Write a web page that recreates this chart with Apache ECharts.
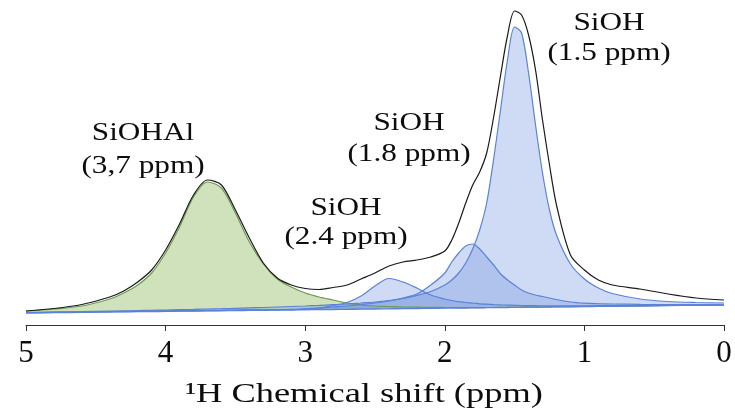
<!DOCTYPE html>
<html>
<head>
<meta charset="utf-8">
<script src="https://cdn.jsdelivr.net/npm/echarts@6/dist/echarts.min.js"></script>
<style>
html,body{margin:0;padding:0;background:#fff;}
#chart{width:735px;height:415px;}
</style>
</head>
<body>
<div id="chart"></div>
<script>
// Chemical shift positions (ppm)
const ppm = [5.0,4.8,4.6,4.4,4.3,4.2,4.1,4.0,3.9,3.8,3.7,3.6,3.5,3.4,3.3,3.2,3.1,3.0,2.9,2.8,2.7,2.6,2.5,2.4,2.3,2.2,2.1,2.0,1.95,1.9,1.85,1.8,1.75,1.7,1.65,1.6,1.55,1.5,1.45,1.4,1.35,1.3,1.25,1.2,1.1,1.0,0.9,0.8,0.6,0.4,0.2,0.0];

// Common baseline of the deconvolution
const baseline = [12,12.3,12.6,13,13.1,13.3,13.4,13.6,13.8,13.9,14.1,14.2,14.4,14.6,14.7,14.9,15,15.2,15.4,15.5,15.7,15.8,16,16.2,16.3,16.5,16.6,16.8,16.9,17,17,17.1,17.2,17.3,17.4,17.4,17.5,17.6,17.7,17.8,17.8,17.9,18,18.1,18.2,18.4,18.6,18.7,19,19.4,19.7,20];

// SiOHAl component (3.7 ppm)
const siohal37 = [14,16,19,26,32,40,52,72,98,128,143,137,112,83,61,46,38,32,28,25,22,20,19,18.5,18,17.8,17.6,17.5,17.5,17.4,17.4,17.4,17.4,17.5,17.5,17.6,17.6,17.7,17.8,17.9,17.9,18,18.1,18.2,18.3,18.5,18.7,18.8,19.1,19.5,19.8,20.1];

// SiOH component (2.4 ppm)
const sioh24 = [12.5,12.8,13.1,13.5,13.6,13.8,13.9,14.1,14.3,14.4,14.6,14.7,14.9,15.1,15.2,15.4,15.6,16,17.2,19.5,22.5,29,39,46.5,43,37,30,26,24.5,23.3,22.5,21.8,21.2,20.8,20.4,20.1,19.9,19.7,19.5,19.4,19.3,19.2,19.1,19.1,19.1,19.2,19.3,19.4,19.6,19.9,20.1,20.3];

// SiOH component (1.8 ppm)
const sioh18 = [12.3,12.6,12.9,13.3,13.4,13.6,13.7,13.9,14.1,14.2,14.4,14.5,14.7,14.9,15,15.2,15.3,16.3,17,18,19,20.5,22,24,27,31,40,52,63,72,79,81,76,68,60,51,45,40,35,32,30,28.5,27,25.5,23,21.8,21.3,21,20.6,20.4,20.4,20.5];

// SiOH component (1.5 ppm)
const sioh15 = [12.5,12.9,13.3,13.8,14.1,14.4,14.7,15,15.3,15.6,16,16.3,16.7,17.1,17.5,18,18.5,19,19.6,20.3,21,22,23,24.5,26.5,29.5,33.5,40,45,52,62,76,95,122,166,216,266,298,292,252,200,152,115,90,61,46,37,31.5,26,23.5,22.5,22];

// Experimental spectrum
const experimental = [14,16.5,20.5,28,34,43,55,75,101,130,145,140,115,87,62,47,40,36.5,35.5,37.5,40,46,52,59,63,65,68,74,85,102,122,140,153,172,208,250,290,314,310,290,255,205,160,120,70,55,45,40,36,31,27,25];

// Axis ticks
const xTicks = [5,4,3,2,1,0];

// Peak annotations
const labels = [
  {name:'SiOHAl', shift:'(3,7 ppm)'},
  {name:'SiOH', shift:'(2.4 ppm)'},
  {name:'SiOH', shift:'(1.8 ppm)'},
  {name:'SiOH', shift:'(1.5 ppm)'}
];
const labelPos = [[143,133,166],[346,208,237],[409,123,154],[609,23,53]];

const pts = arr => ppm.map((p,i)=>[p,arr[i]]);
const serif = "'Liberation Serif','Times New Roman',serif";
const blueLine = '#5b82d8';
const blueFill = 'rgba(110,145,222,0.33)';

const chart = echarts.init(document.getElementById('chart'), null, {renderer:'canvas'});

function comp(data, lineColor, fillColor){
  return {
    type:'line', data:pts(data), smooth:0.3, showSymbol:false, symbol:'none',
    lineStyle:{color:lineColor, width:1.2},
    areaStyle:{color:fillColor, opacity:1},
    silent:true, animation:false
  };
}

const graphics = [];
labels.forEach((l,i)=>{
  const [x,y1,y2] = labelPos[i];
  [[l.name,y1],[l.shift,y2]].forEach(([t,y])=>{
    graphics.push({type:'text', x:x, y:y, scaleX:1.25, silent:true,
      style:{text:t, fontFamily:serif, fontSize:25, fill:'#0d0d0d', align:'center', verticalAlign:'middle'}});
  });
});
graphics.push({type:'text', x:364, y:395, scaleX:1.3, silent:true,
  style:{text:'\u00B9H Chemical shift (ppm)', fontFamily:serif, fontSize:28, fill:'#0d0d0d', align:'center', verticalAlign:'middle'}});

chart.setOption({
  animation:false,
  backgroundColor:'#fff',
  grid:{left:26, right:11, top:5, bottom:90},
  xAxis:{
    type:'value', min:0, max:5, interval:1, inverse:true,
    axisLine:{show:true, lineStyle:{color:'#333', width:1}},
    axisTick:{show:true, inside:false, length:6, lineStyle:{color:'#333'}},
    splitLine:{show:false},
    axisLabel:{fontFamily:serif, fontSize:31, color:'#0d0d0d', margin:13,
      formatter: v => xTicks.includes(v) ? String(v) : ''}
  },
  yAxis:{type:'value', min:0, max:320, show:false, splitLine:{show:false}},
  series:[
    comp(siohal37, '#6f9a52', 'rgba(140,186,96,0.42)'),
    comp(sioh24, blueLine, blueFill),
    comp(sioh18, blueLine, blueFill),
    comp(sioh15, blueLine, blueFill),
    {type:'line', data:pts(baseline), smooth:0.3, showSymbol:false, symbol:'none',
     lineStyle:{color:blueLine, width:1.3}, areaStyle:{color:'#ffffff', opacity:1}, silent:true},
    {type:'line', data:pts(experimental), smooth:0.3, showSymbol:false, symbol:'none',
     lineStyle:{color:'#1a1a1a', width:1.2}, silent:true}
  ],
  graphic:graphics
});
</script>
</body>
</html>
